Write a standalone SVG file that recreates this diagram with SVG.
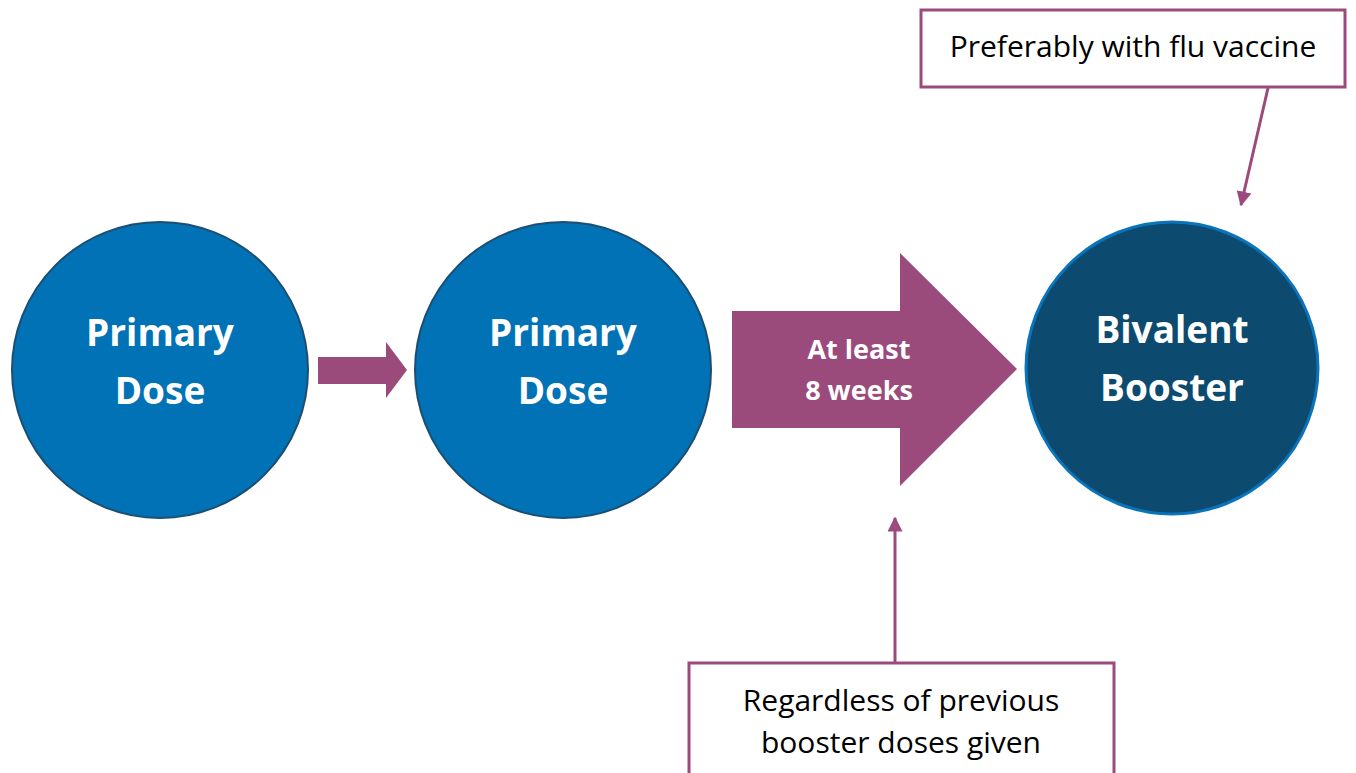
<svg xmlns="http://www.w3.org/2000/svg" width="1356" height="773" viewBox="0 0 1356 773">
<defs>
<style>
.dose{fill:#0072B5;stroke:#1B4E72;stroke-width:2}
.boost{fill:#0D4A70;stroke:#0A74BB;stroke-width:3}
.big{font-family:"Open Sans","Noto Sans",sans-serif;font-weight:bold;fill:#fff;text-anchor:middle}
.note{fill:#fff;stroke:#9B4A7C;stroke-width:3}
.nt{font-family:"Open Sans","Noto Sans",sans-serif;fill:#000;text-anchor:middle;font-size:30px}
.arr{fill:#9B4A7C}
.line{stroke:#9B4A7C;stroke-width:3;fill:none}
</style>
<marker id="ah" viewBox="0 0 10 10" refX="9" refY="5" markerWidth="5" markerHeight="5" orient="auto" markerUnits="strokeWidth">
<path d="M0,0 L10,5 L0,10 z" fill="#9B4A7C"/>
</marker>
</defs>
<rect width="1356" height="773" fill="#fff"/>
<g id="dose1">
<circle class="dose" cx="160" cy="370" r="148"/>
<text class="big" x="160" y="346" font-size="37">Primary</text>
<text class="big" x="160" y="404" font-size="37">Dose</text>
</g>
<g id="dose2">
<circle class="dose" cx="563" cy="370" r="148"/>
<text class="big" x="563" y="346" font-size="37">Primary</text>
<text class="big" x="563" y="404" font-size="37">Dose</text>
</g>
<g id="booster">
<circle class="boost" cx="1172" cy="368" r="146"/>
<text class="big" x="1172" y="343" font-size="37">Bivalent</text>
<text class="big" x="1172" y="401" font-size="37">Booster</text>
</g>
<g id="connectors">
<polygon id="arrow1" class="arr" points="318,357 386,357 386,342 407,370 386,398 386,384 318,384"/>
<g id="arrow2">
<polygon class="arr" points="732,311 900,311 900,253 1017,369 900,486 900,428 732,428"/>
<text class="big" x="859" y="359" font-size="27">At least</text>
<text class="big" x="859" y="400" font-size="27">8 weeks</text>
</g>
<line class="line" x1="1268" y1="88" x2="1241" y2="205" marker-end="url(#ah)"/>
<line class="line" x1="895" y1="663" x2="895" y2="518" marker-end="url(#ah)"/>
</g>
<g id="note-flu">
<rect class="note" x="921" y="10" width="424" height="77"/>
<text class="nt" x="1133" y="57">Preferably with flu vaccine</text>
</g>
<g id="note-regardless">
<rect class="note" x="689" y="663" width="425" height="120"/>
<text class="nt" x="901" y="711">Regardless of previous</text>
<text class="nt" x="901" y="753">booster doses given</text>
</g>
</svg>
